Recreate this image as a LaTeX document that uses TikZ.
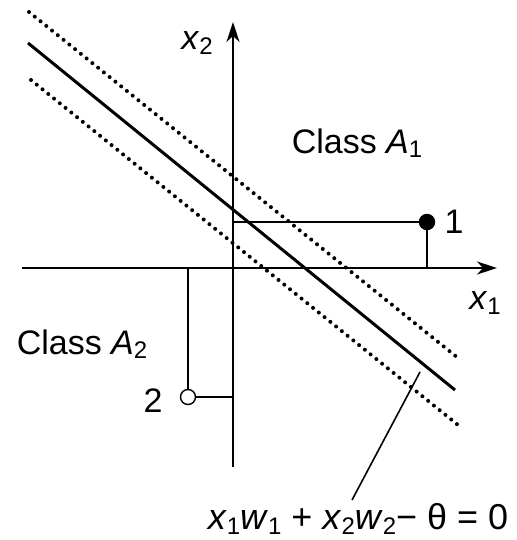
\documentclass[tikz,border=0pt]{standalone}
\usepackage{fontspec}
\setmainfont{Liberation Sans}
\usetikzlibrary{arrows.meta}

\newcommand{\vsub}[2]{\textit{#1}\raisebox{-0.25ex}{\fontsize{12}{12}\selectfont #2}}

\begin{document}
\begin{tikzpicture}[x=0.5pt,y=-0.5pt,
  axis/.style={line width=0.8pt,-{Stealth[length=10pt,width=6.5pt,inset=3pt]}},
  boundary/.style={line width=1.5pt},
  marginline/.style={line width=2pt,dash pattern=on 0pt off 3.7pt,line cap=round},
  guide/.style={line width=0.8pt},
  lbl/.style={font=\fontsize{17}{20}\selectfont,inner sep=0pt},
  pt/.style={circle,draw,line width=0.7pt,minimum size=7.5pt,inner sep=0pt}]

\useasboundingbox (0,0) rectangle (517,540);

% Axes
\coordinate (xl) at (22,268);
\coordinate (xr) at (497,268);
\coordinate (yb) at (233,467);
\coordinate (yt) at (233,22);
\draw[axis] (xl)--(xr);
\draw[axis] (yb)--(yt);

% Separating line and margins
\coordinate (s1) at (28,43);
\coordinate (s2) at (455,390);
\coordinate (u1) at (29,12);
\coordinate (u2) at (458,358);
\coordinate (d1) at (31,80);
\coordinate (d2) at (458,425);
\draw[boundary] (s1)--(s2);
\draw[marginline] (u1)--(u2);
\draw[marginline] (d1)--(d2);

% Pattern 1
\node[pt,fill=black] (p1) at (427,222) {};
\coordinate (p1y) at (233,222);
\coordinate (p1x) at (427,268);
\draw[guide] (p1y)--(p1);
\draw[guide] (p1)--(p1x);

% Pattern 2
\node[pt,fill=white] (p2) at (188,397) {};
\coordinate (p2y) at (233,397);
\coordinate (p2x) at (188,268);
\draw[guide] (p2x)--(p2);
\draw[guide] (p2)--(p2y);

% Labels
\node[lbl] (lx2) at (197,43) {\vsub{x}{2}};
\node[lbl] (lx1) at (485,303) {\vsub{x}{1}};
\node[lbl] (ca1) at (357,143) {Class \vsub{A}{1}};
\node[lbl] (ca2) at (82,344) {Class \vsub{A}{2}};
\node[lbl] (n1) at (454,222) {1};
\node[lbl] (n2) at (153,401) {2};
\node[lbl,font=\fontsize{18}{20}\selectfont] (eq) at (358,519)
  {\vsub{x}{1}\vsub{w}{1} + \vsub{x}{2}\vsub{w}{2}− θ = 0};

% Pointer
\coordinate (ptr) at (420,372);
\coordinate (ptrend) at (352,500);
\draw[guide] (ptr)--(ptrend);

\end{tikzpicture}
\end{document}
